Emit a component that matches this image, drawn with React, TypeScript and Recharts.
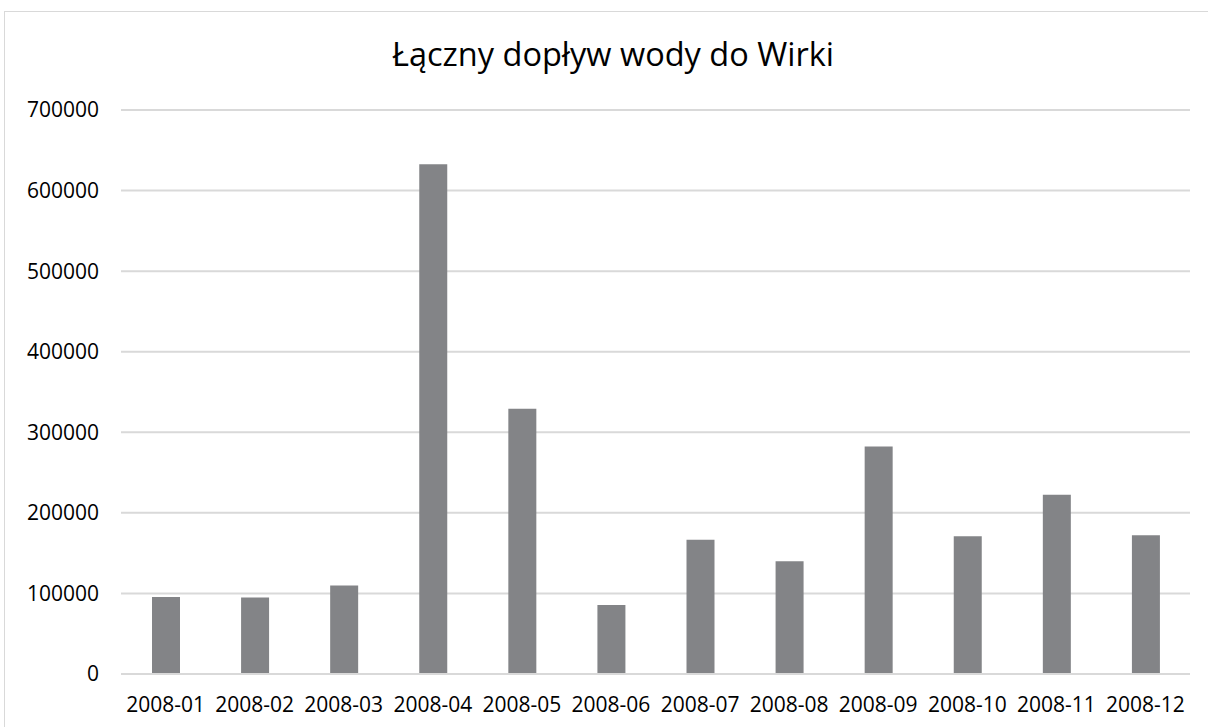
import { BarChart, Bar, XAxis, YAxis, CartesianGrid } from "recharts"

const months = [
  "2008-01", "2008-02", "2008-03", "2008-04", "2008-05", "2008-06",
  "2008-07", "2008-08", "2008-09", "2008-10", "2008-11", "2008-12",
]
const inflow = [
  95600, 94800, 109700, 632700, 329200, 85700,
  166500, 140000, 282400, 171000, 222400, 172300,
]
const yTicks = [0, 100000, 200000, 300000, 400000, 500000, 600000, 700000]

const data = months.map((month, i) => ({ month, value: inflow[i] }))

const font = "'Open Sans', 'Noto Sans', sans-serif"

export default function App() {
  return (
    <div style={{ position: "absolute", left: 0, top: 0, width: 1208, height: 727, overflow: "hidden", background: "#fff", fontFamily: font }}>
      <div style={{ position: "absolute", left: 4, top: 11, width: 1240, height: 760, border: "1px solid #d9d9d9", boxSizing: "border-box" }} />
      <div style={{ position: "absolute", left: 0, top: 33, width: 1226, textAlign: "center", fontSize: 32.5, color: "#000", lineHeight: "42px" }}>
        Łączny dopływ wody do Wirki
      </div>
      <BarChart
        width={1208}
        height={727}
        data={data}
        margin={{ top: 110, right: 18, bottom: 13, left: 0 }}
        style={{ position: "absolute", left: 0, top: 0 }}
      >
        <CartesianGrid vertical={false} stroke="#d9d9d9" strokeWidth={2} />
        <XAxis
          dataKey="month"
          height={40}
          axisLine={{ stroke: "#d9d9d9", strokeWidth: 2 }}
          tickLine={false}
          tickSize={0}
          tickMargin={23}
          interval={0}
          tick={{ fill: "#000", fontSize: 21, fontFamily: font }}
        />
        <YAxis
          width={121}
          domain={[0, 700000]}
          ticks={yTicks}
          axisLine={false}
          tickLine={false}
          tickSize={0}
          tickMargin={22}
          tick={{ fill: "#000", fontSize: 21, fontFamily: font }}
        />
        <Bar dataKey="value" fill="#838487" barSize={28} isAnimationActive={false} />
      </BarChart>
    </div>
  )
}
